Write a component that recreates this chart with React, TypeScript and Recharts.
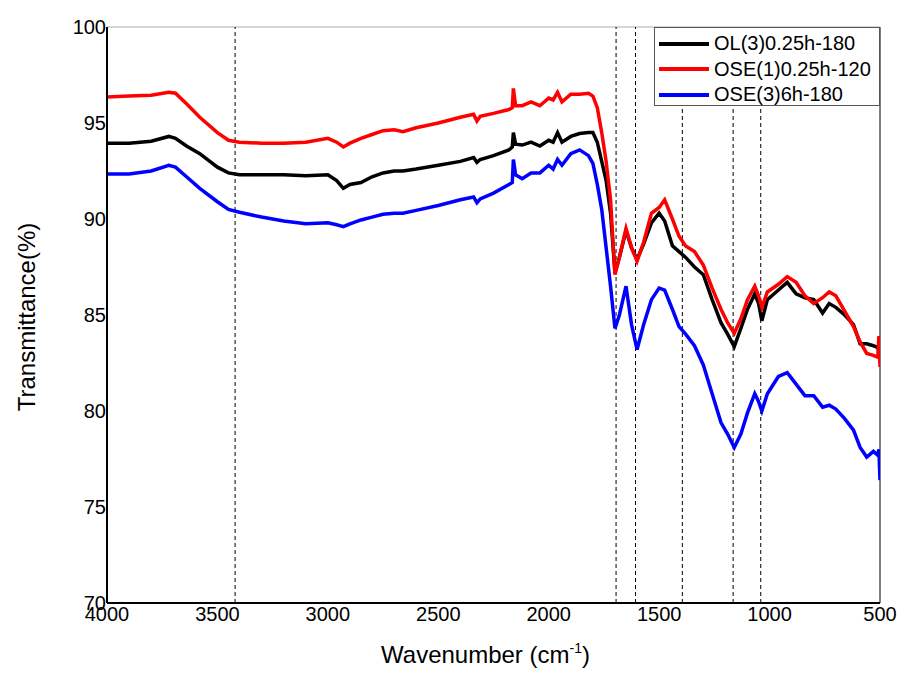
import { LineChart, Line, XAxis, YAxis, ReferenceLine, Label } from 'recharts';

// FTIR spectra
const wavenumbers = [
  4000, 3900, 3800, 3720, 3690, 3640, 3580, 3500, 3450, 3400, 3300, 3200, 3100, 3000, 2960, 2930, 2900, 2850, 2800,
  2750, 2700, 2660, 2600, 2500, 2400, 2340, 2325, 2310, 2250, 2180, 2165, 2160, 2150, 2120, 2080, 2040, 2000,
  1980, 1960, 1940, 1900, 1860, 1820, 1800, 1780, 1760, 1740, 1720, 1700, 1680, 1650, 1625, 1600, 1570, 1535,
  1500, 1475, 1440, 1410, 1380, 1340, 1300, 1260, 1220, 1190, 1160, 1130, 1100, 1067, 1050, 1035, 1010, 960,
  920, 880, 840, 800, 760, 730, 700, 660, 620, 590, 560, 530, 510, 505, 500,
];

const olSeries = [
  93.95, 93.95, 94.05, 94.3, 94.2, 93.8, 93.4, 92.7, 92.4, 92.3, 92.3, 92.3, 92.25, 92.3, 92.0, 91.6, 91.8, 91.9, 92.2,
  92.4, 92.5, 92.5, 92.6, 92.8, 93.0, 93.2, 92.95, 93.1, 93.3, 93.6, 93.75, 94.5, 93.9, 93.85, 94.0, 93.8, 94.1,
  94.0, 94.5, 94.0, 94.3, 94.45, 94.5, 94.5, 94.0, 93.0, 92.0, 90.3, 87.2, 88.0, 89.4, 88.5, 87.9, 88.7, 89.8,
  90.3, 89.9, 88.6, 88.3, 88.0, 87.5, 87.1, 85.8, 84.6, 84.0, 83.35, 84.3, 85.3, 86.1, 85.6, 84.7, 85.8, 86.3,
  86.7, 86.1, 85.9, 85.8, 85.1, 85.6, 85.4, 85.0, 84.5, 83.5, 83.5, 83.4, 83.3, 83.1, 83.2,
];

const ose1Series = [
  96.35, 96.4, 96.45, 96.6, 96.55, 96.0, 95.3, 94.5, 94.1, 94.0, 93.95, 93.95, 94.0, 94.2, 94.0, 93.75, 93.95, 94.2, 94.4,
  94.6, 94.65, 94.55, 94.75, 95.0, 95.3, 95.45, 95.1, 95.35, 95.5, 95.7, 95.8, 96.8, 95.9, 95.9, 96.1, 95.9, 96.3,
  96.2, 96.6, 96.1, 96.5, 96.5, 96.55, 96.4, 95.8, 94.5, 93.0, 91.0, 87.1, 88.0, 89.5, 88.5, 87.8, 88.8, 90.3,
  90.6, 91.0, 90.0, 89.1, 88.6, 88.3, 87.6, 86.4, 85.3, 84.6, 84.05, 84.8, 85.8, 86.5, 86.0, 85.4, 86.2, 86.6,
  87.0, 86.7, 86.0, 85.6, 85.9, 86.2, 86.0, 85.2, 84.4, 83.6, 83.0, 82.9, 82.8, 83.9, 82.3,
];

const ose3Series = [
  92.35, 92.35, 92.5, 92.8, 92.7, 92.2, 91.6, 90.9, 90.5, 90.35, 90.1, 89.9, 89.75, 89.8, 89.7, 89.6, 89.75, 89.95, 90.1,
  90.25, 90.3, 90.3, 90.45, 90.7, 91.0, 91.15, 90.85, 91.05, 91.35, 91.8, 91.9, 93.1, 92.3, 92.1, 92.4, 92.4, 92.8,
  92.6, 93.1, 92.8, 93.4, 93.6, 93.3, 92.9, 91.8, 90.5, 88.5, 86.5, 84.3, 85.0, 86.5, 84.5, 83.2, 84.5, 85.8,
  86.4, 86.3, 85.3, 84.4, 84.0, 83.4, 82.4, 80.9, 79.4, 78.8, 78.1, 78.8, 79.9, 80.9, 80.5, 80.0, 80.9, 81.8,
  82.0, 81.4, 80.8, 80.8, 80.2, 80.3, 80.1, 79.6, 79.0, 78.1, 77.6, 77.9, 77.7, 78.0, 76.4,
];

const seriesNames = ['OL(3)0.25h-180', 'OSE(1)0.25h-120', 'OSE(3)6h-180'];
const seriesColors = ['#000000', '#ff0000', '#0000ff'];
const xTicks = [4000, 3500, 3000, 2500, 2000, 1500, 1000, 500];
const yTicks = [70, 75, 80, 85, 90, 95, 100];
const peakLines = [3420, 1695, 1607, 1395, 1165, 1040];

const data = wavenumbers.map((w, i) => ({ w, ol: olSeries[i], ose1: ose1Series[i], ose3: ose3Series[i] }));

const font = "Arial, 'Liberation Sans', sans-serif";

function XTitle(props: any) {
  const { viewBox } = props;
  const cx = viewBox.x + viewBox.width / 2 - 8;
  return (
    <text x={cx} y={663} textAnchor="middle" fontFamily={font} fontSize={24} fill="#000">
      Wavenumber (cm
      <tspan dy={-10} fontSize={14}>-1</tspan>
      <tspan dy={10}>)</tspan>
    </text>
  );
}

function YTitle() {
  return (
    <text x={0} y={0} transform="translate(35, 317) rotate(-90)" textAnchor="middle" fontFamily={font} fontSize={24} fill="#000">
      Transmittance(%)
    </text>
  );
}

export default function App() {
  return (
    <div style={{ position: 'absolute', left: 0, top: 0, width: 903, height: 673, background: '#fff' }}>
      <LineChart width={903} height={673} data={data} margin={{ top: 27, right: 23, left: 57, bottom: 40 }}>
        <XAxis
          dataKey="w" type="number" domain={[500, 4000]} reversed ticks={xTicks} allowDataOverflow
          tickLine={false} tickSize={0} tickMargin={4} height={30}
          stroke="#000" strokeWidth={2}
          tick={{ fontFamily: font, fontSize: 20, fill: '#000' }}
        >
          <Label content={<XTitle />} />
        </XAxis>
        <YAxis
          type="number" domain={[70, 100]} ticks={yTicks} allowDataOverflow width={50}
          tickLine={false} tickSize={0} tickMargin={1}
          stroke="#000" strokeWidth={2}
          tick={{ fontFamily: font, fontSize: 20, fill: '#000' }}
        >
          <Label content={<YTitle />} />
        </YAxis>
        <ReferenceLine y={100} stroke="#c8c8c8" strokeWidth={1.5} />
        <ReferenceLine x={500} stroke="#555" strokeWidth={1.5} />
        {peakLines.map((p) => (
          <ReferenceLine key={p} x={p} stroke="#000" strokeWidth={1} strokeDasharray="4 3" />
        ))}
        <Line dataKey="ol" name={seriesNames[0]} stroke={seriesColors[0]} strokeWidth={3.5} dot={false} type="linear" isAnimationActive={false} />
        <Line dataKey="ose1" name={seriesNames[1]} stroke={seriesColors[1]} strokeWidth={3.5} dot={false} type="linear" isAnimationActive={false} />
        <Line dataKey="ose3" name={seriesNames[2]} stroke={seriesColors[2]} strokeWidth={3.5} dot={false} type="linear" isAnimationActive={false} />
      </LineChart>
      <div style={{
        position: 'absolute', left: 654, top: 27, width: 226, height: 79, background: '#fff',
        border: '1px solid #555', fontFamily: font, fontSize: 20, color: '#000', boxSizing: 'border-box', paddingTop: 3,
      }}>
        {seriesNames.map((n, i) => (
          <div key={n} style={{ display: 'flex', alignItems: 'center', height: 25.5 }}>
            <span style={{ display: 'inline-block', width: 50, height: 4, background: seriesColors[i], marginLeft: 4, marginRight: 5 }} />
            <span>{n}</span>
          </div>
        ))}
      </div>
    </div>
  );
}
